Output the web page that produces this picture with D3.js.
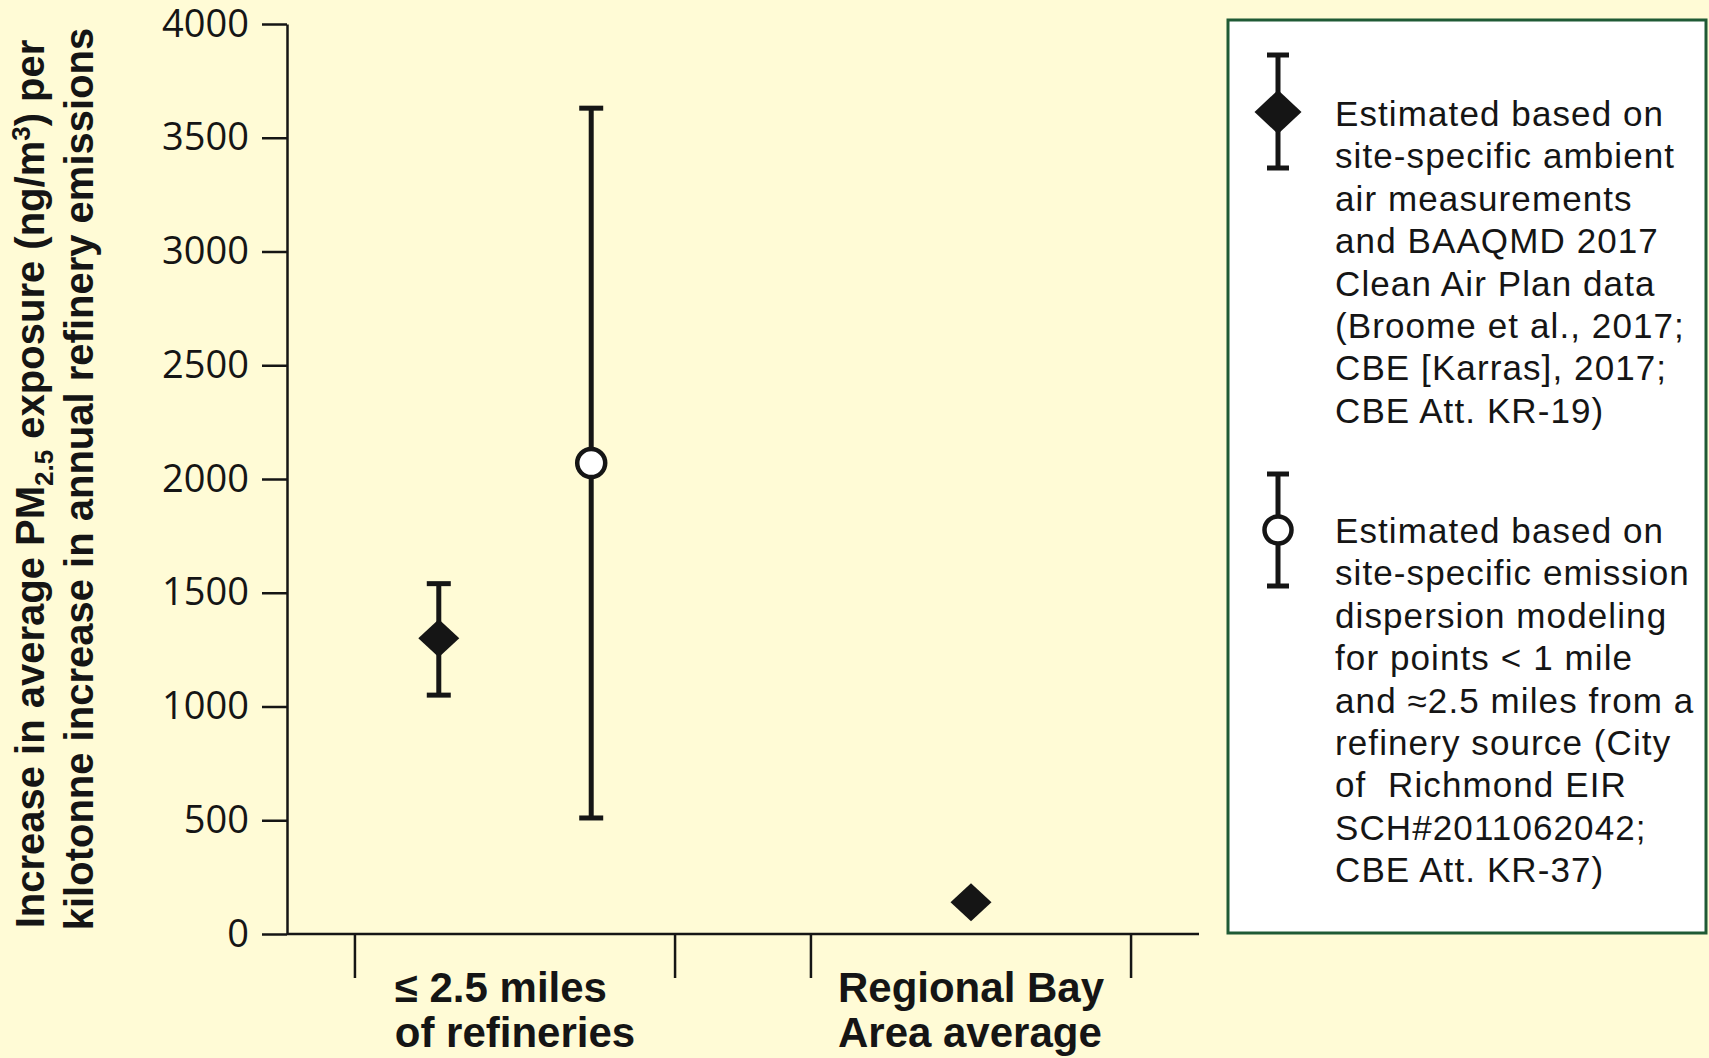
<!DOCTYPE html>
<html><head><meta charset="utf-8">
<script src="https://cdn.jsdelivr.net/npm/d3@7"></script>
<style>html,body{margin:0;padding:0;background:#FFFBD6;} svg{display:block}</style>
</head><body><svg id="chart" width="1709" height="1058"></svg>
<script>
// ---------- data ----------
const categories = ["near", "regional"];
const categoryLabels = [["≤ 2.5 miles", "of refineries"], ["Regional Bay", "Area average"]];
const seriesNames = ["ambient", "modeling"];
const ambientValues = [1300, 140];
const ambientLow = [1050, null];
const ambientHigh = [1540, null];
const modelingValues = [2070, null];
const modelingLow = [510, null];
const modelingHigh = [3630, null];
const yTicks = [0, 500, 1000, 1500, 2000, 2500, 3000, 3500, 4000];
const legendAmbient = ["Estimated based on", "site-specific ambient", "air measurements", "and BAAQMD 2017", "Clean Air Plan data", "(Broome et al., 2017;", "CBE [Karras], 2017;", "CBE Att. KR-19)"];
const legendModeling = ["Estimated based on", "site-specific emission", "dispersion modeling", "for points < 1 mile", "and ≈2.5 miles from a", "refinery source (City", "of  Richmond EIR", "SCH#2011062042;", "CBE Att. KR-37)"];

// ---------- setup ----------
const ink = "#151515";
const svg = d3.select("#chart");
svg.append("rect").attr("width", 1709).attr("height", 1058).attr("fill", "#FFFBD6");

const plot = {left: 287, right: 1199, top: 24, bottom: 934};
const y = d3.scaleLinear().domain([0, 4000]).range([plot.bottom, plot.top]);
const x = d3.scaleBand().domain(categories).range([plot.left, plot.right])
  .paddingInner(0.298).paddingOuter(0.149);

const seriesData = {
  ambient: {values: ambientValues, low: ambientLow, high: ambientHigh},
  modeling: {values: modelingValues, low: modelingLow, high: modelingHigh}
};

const points = [];
categories.forEach((c, i) => {
  const present = seriesNames.filter(s => seriesData[s].values[i] != null);
  const sub = d3.scalePoint().domain(present).range([0, x.bandwidth()]).padding(0.55);
  present.forEach(s => {
    points.push({cat: c, series: s, cx: x(c) + sub(s),
      v: seriesData[s].values[i], lo: seriesData[s].low[i], hi: seriesData[s].high[i]});
  });
});

// ---------- y axis ----------
const yAxis = d3.axisLeft(y).tickValues(yTicks).tickFormat(d3.format("d"))
  .tickSize(25).tickSizeOuter(0).tickPadding(13);
const gy = svg.append("g").attr("transform", `translate(${plot.left},0)`).call(yAxis);
gy.select(".domain").attr("stroke", ink).attr("stroke-width", 2.5);
gy.selectAll(".tick line").attr("stroke", ink).attr("stroke-width", 2.5);
gy.selectAll(".tick text").attr("fill", ink)
  .style("font-family", "'Open Sans', 'Noto Sans', sans-serif").style("font-size", "38px");

// ---------- x axis ----------
svg.append("line").attr("x1", plot.left).attr("x2", plot.right)
  .attr("y1", y(0)).attr("y2", y(0)).attr("stroke", ink).attr("stroke-width", 2.5);
const edges = [];
categories.forEach(c => { edges.push(x(c)); edges.push(x(c) + x.bandwidth()); });
svg.selectAll(".xtick").data(edges).enter().append("line")
  .attr("x1", d => d).attr("x2", d => d)
  .attr("y1", y(0)).attr("y2", y(0) + 44)
  .attr("stroke", ink).attr("stroke-width", 2.5);

categories.forEach((c, i) => {
  const g = svg.append("g");
  const cx = x(c) + x.bandwidth() / 2;
  const texts = categoryLabels[i].map((t, j) => g.append("text")
    .attr("y", 1002 + j * 45).text(t)
    .style("font-family", "'Liberation Sans', Arial, sans-serif")
    .style("font-weight", "bold").style("font-size", "42px").attr("fill", ink));
  const w = d3.max(texts, t => t.node().getComputedTextLength());
  texts.forEach(t => t.attr("x", cx - w / 2));
});

// ---------- axis title ----------
const titleFont = "'Liberation Sans', Arial, sans-serif";
const t1 = svg.append("text").attr("transform", "translate(44,484) rotate(-90)")
  .attr("text-anchor", "middle").attr("fill", ink)
  .style("font-family", titleFont).style("font-weight", "bold").style("font-size", "40px");
t1.append("tspan").text("Increase in average PM");
t1.append("tspan").text("2.5").attr("dy", 9).style("font-size", "26px");
t1.append("tspan").text(" exposure (ng/m").attr("dy", -9);
t1.append("tspan").text("3").attr("dy", -14).style("font-size", "26px");
t1.append("tspan").text(") per").attr("dy", 14);
svg.append("text").attr("transform", "translate(93,479) rotate(-90)")
  .attr("text-anchor", "middle").attr("fill", ink)
  .style("font-family", titleFont).style("font-weight", "bold").style("font-size", "40px")
  .text("kilotonne increase in annual refinery emissions");

// ---------- marks ----------
const diamond = (cx, cy, w, h) => `M${cx},${cy - h}L${cx + w},${cy}L${cx},${cy + h}L${cx - w},${cy}Z`;
const withBars = points.filter(p => p.lo != null);
svg.selectAll(".bar").data(withBars).enter().append("line")
  .attr("x1", d => d.cx).attr("x2", d => d.cx)
  .attr("y1", d => y(d.lo)).attr("y2", d => y(d.hi))
  .attr("stroke", ink).attr("stroke-width", 5);
svg.selectAll(".capLo").data(withBars).enter().append("line")
  .attr("x1", d => d.cx - 12).attr("x2", d => d.cx + 12)
  .attr("y1", d => y(d.lo)).attr("y2", d => y(d.lo))
  .attr("stroke", ink).attr("stroke-width", 5);
svg.selectAll(".capHi").data(withBars).enter().append("line")
  .attr("x1", d => d.cx - 12).attr("x2", d => d.cx + 12)
  .attr("y1", d => y(d.hi)).attr("y2", d => y(d.hi))
  .attr("stroke", ink).attr("stroke-width", 5);

svg.selectAll(".dia").data(points.filter(p => p.series === "ambient")).enter().append("path")
  .attr("d", d => diamond(d.cx, y(d.v), 20.5, 19)).attr("fill", ink);
svg.selectAll(".circ").data(points.filter(p => p.series === "modeling")).enter().append("circle")
  .attr("cx", d => d.cx).attr("cy", d => y(d.v)).attr("r", 14)
  .attr("fill", "#fff").attr("stroke", ink).attr("stroke-width", 4.5);

// ---------- legend ----------
const lg = svg.append("g");
lg.append("rect").attr("x", 1228).attr("y", 20).attr("width", 478).attr("height", 913)
  .attr("fill", "#fff").attr("stroke", "#1F5A35").attr("stroke-width", 3);
const legendItems = [
  {type: "ambient", top: 55, mid: 112, bot: 168, text: legendAmbient, base: 126},
  {type: "modeling", top: 474, mid: 530, bot: 586, text: legendModeling, base: 543}
];
const lx = 1278;
legendItems.forEach(it => {
  lg.append("line").attr("x1", lx).attr("x2", lx).attr("y1", it.top).attr("y2", it.bot)
    .attr("stroke", ink).attr("stroke-width", 5);
  [it.top, it.bot].forEach(yy => lg.append("line").attr("x1", lx - 11).attr("x2", lx + 11)
    .attr("y1", yy).attr("y2", yy).attr("stroke", ink).attr("stroke-width", 5));
  if (it.type === "ambient") {
    lg.append("path").attr("d", diamond(lx, it.mid, 23.5, 22)).attr("fill", ink);
  } else {
    lg.append("circle").attr("cx", lx).attr("cy", it.mid).attr("r", 13.5)
      .attr("fill", "#fff").attr("stroke", ink).attr("stroke-width", 4.5);
  }
  lg.selectAll(null).data(it.text).enter().append("text")
    .attr("x", 1335).attr("y", (d, i) => it.base + i * 42.4)
    .attr("fill", ink)
    .style("font-family", "'Liberation Sans', Arial, sans-serif")
    .style("font-size", "35px").style("letter-spacing", "1.1px")
    .style("white-space", "pre")
    .text(d => d);
});
</script></body></html>
